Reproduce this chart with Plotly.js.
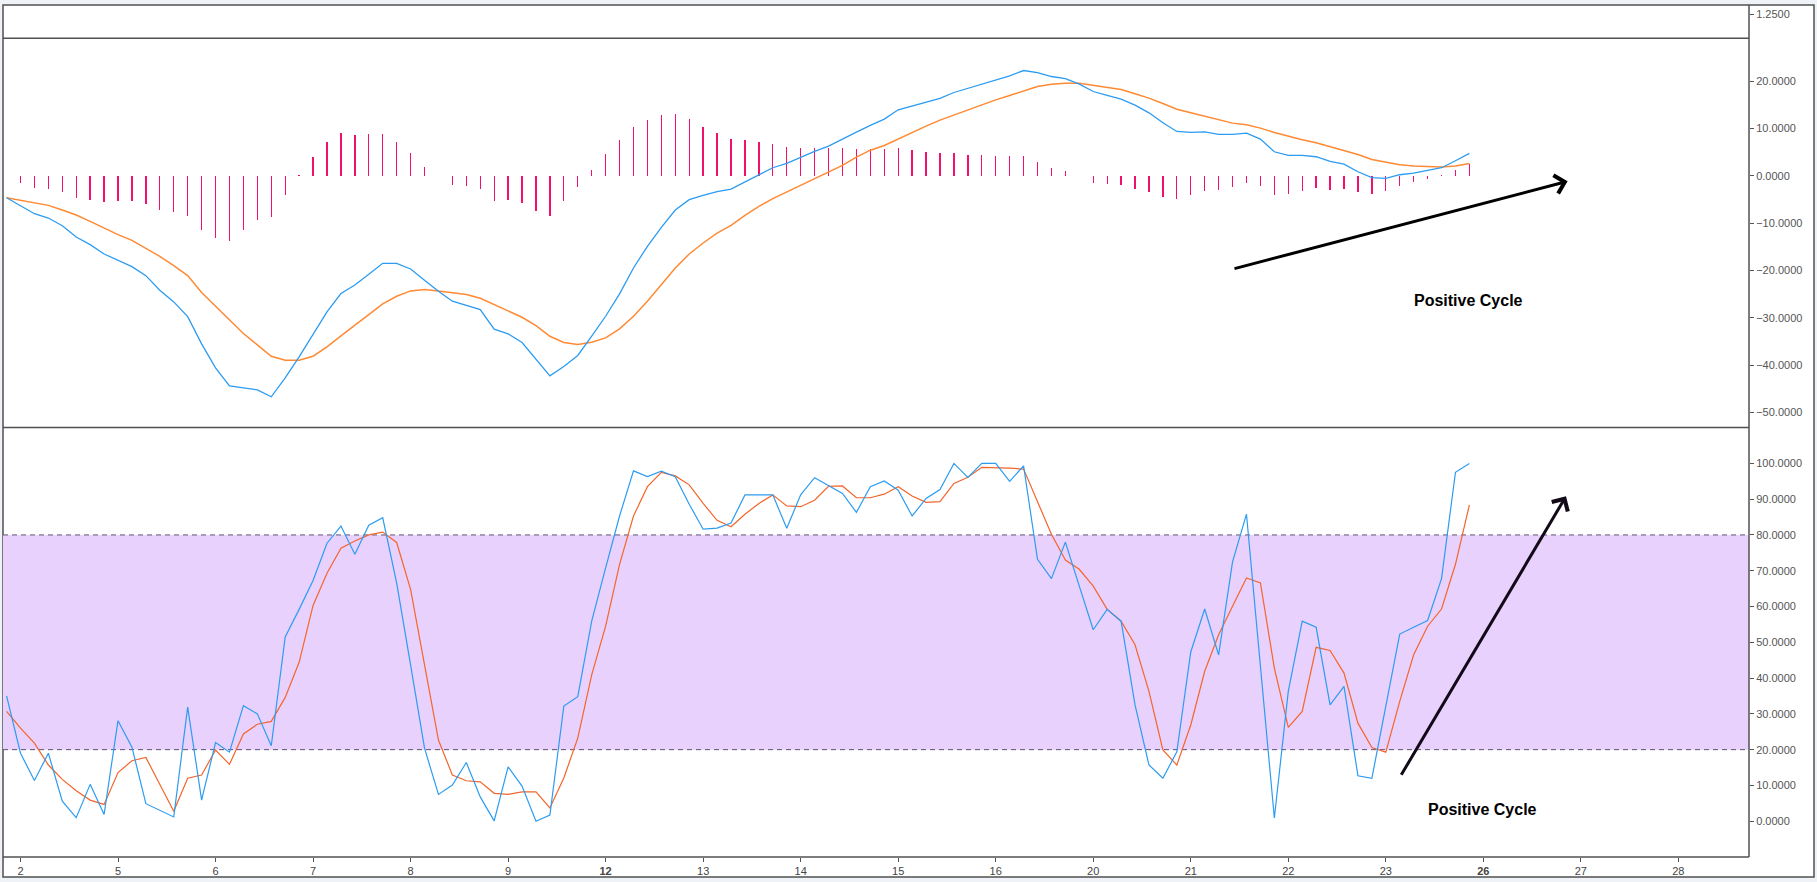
<!DOCTYPE html>
<html>
<head>
<meta charset="utf-8">
<script src="https://cdn.plot.ly/plotly-3.0.1.min.js"></script>
<style>
html,body{margin:0;padding:0;background:#eff3f7;}
#chart{width:1817px;height:882px;}
</style>
</head>
<body>
<div id="chart"></div>
<script>
// ---- data (one bar = one intraday period, 7 per trading day) ----
const dayLabels = ['2','5','6','7','8','9','12','13','14','15','16','20','21','22','23','26','27','28'];
const boldDays = ['12','26'];
const barsPerDay = 7;

const macdLine = [
 -4.64, -6.33, -8.02, -8.93, -10.55, -12.94, -14.56, -16.53, -17.79, -19.2,
 -21.1, -24.19, -26.65, -29.75, -35.51, -40.58, -44.37, -44.8, -45.22, -46.69,
 -42.69, -38.26, -33.54, -28.76, -24.89, -23.07, -20.82, -18.5, -18.5, -19.69,
 -22.08, -24.4, -26.51, -27.43, -28.27, -32.42, -33.4, -35.23, -38.82, -42.26,
 -40.3, -37.97, -33.9, -29.68, -24.96, -19.48, -14.91, -10.9, -7.24, -5.06,
 -4.15, -3.38, -2.81, -1.34, 0.28, 1.69, 2.6, 3.94, 5.13, 6.26,
 7.81, 9.21, 10.62, 11.95, 13.92, 14.77, 15.54, 16.32, 17.58, 18.5,
 19.27, 20.25, 21.1, 22.22, 21.8, 20.96, 20.53, 19.34, 17.79, 16.95,
 16.17, 14.91, 13.29, 11.18, 9.35, 9.14, 9.28, 8.72, 8.72, 9.0,
 7.74, 5.06, 4.29, 4.29, 4.01, 3.02, 2.46, 0.84, -0.42, -0.56,
 0.21, 0.56, 1.05, 1.69, 3.16, 4.71
];

const signalLine = [
 -4.64, -5.2, -5.7, -6.26, -7.24, -8.3, -9.63, -11.11, -12.45, -13.64,
 -15.33, -17.02, -18.99, -21.1, -24.68, -27.57, -30.66, -33.33, -35.72, -38.12,
 -38.96, -38.96, -38.12, -36.15, -33.83, -31.5, -29.32, -27.07, -25.46, -24.33,
 -24.05, -24.33, -24.68, -25.11, -25.88, -27.22, -28.48, -29.89, -31.65, -33.9,
 -35.23, -35.65, -35.16, -34.25, -32.35, -29.68, -26.51, -23.0, -19.48, -16.53,
 -14.21, -12.1, -10.48, -8.37, -6.47, -4.85, -3.45, -2.04, -0.63, 0.77,
 2.18, 3.94, 5.4, 6.4, 7.81, 9.21, 10.48, 11.74, 12.8, 13.85,
 15.05, 16.03, 16.95, 17.93, 18.85, 19.34, 19.55, 19.55, 19.13, 18.71,
 18.21, 17.3, 16.39, 15.26, 14.06, 13.29, 12.52, 11.74, 11.11, 10.76,
 10.06, 9.14, 8.3, 7.59, 6.96, 6.12, 5.41, 4.5, 3.45, 2.88,
 2.32, 2.04, 1.9, 1.83, 2.04, 2.6
];

const histogram = [
 null, -1.55, -2.6, -2.8, -3.45, -4.7, -5.1, -5.55, -5.35, -5.35,
 -6.0, -7.25, -7.65, -8.5, -11.45, -13.15, -13.7, -11.45, -9.35, -8.7,
 -4.1, 0.15, 3.95, 7.1, 8.95, 8.6, 8.8, 8.8, 7.1, 4.8,
 1.85, -0.1, -1.95, -2.2, -2.8, -5.35, -5.15, -5.75, -7.45, -8.5,
 -5.35, -2.4, 1.2, 4.55, 7.5, 10.25, 11.75, 12.8, 13.0, 11.95,
 10.25, 9.0, 7.75, 7.5, 7.1, 6.7, 6.05, 5.85, 5.85, 5.85,
 5.85, 5.6, 5.6, 5.6, 5.85, 5.4, 5.0, 4.8, 4.8, 4.35,
 4.35, 4.15, 4.15, 4.15, 2.9, 1.6, 1.0, 0, -1.55, -1.75,
 -1.95, -2.8, -3.45, -4.5, -4.9, -4.1, -3.25, -3.0, -2.4, -1.55,
 -2.2, -4.1, -3.85, -3.25, -2.6, -3.0, -2.8, -3.45, -3.85, -3.25,
 -2.2, -1.35, -0.7, 0.1, 1.2, 2.45
];

const stochK = [
 35.0, 19.0, 11.4, 19.0, 5.6, 1.0, 10.3, 1.9, 28.1, 20.7,
 4.9, 3.1, 1.2, 31.9, 5.9, 22.0, 19.3, 32.3, 30.0, 21.1,
 51.5, 59.2, 67.3, 77.7, 82.5, 74.6, 82.7, 84.8, 66.6, 43.7,
 20.4, 7.5, 10.1, 16.4, 6.8, 0.1, 15.2, 9.8, 0.0, 1.7,
 32.2, 34.8, 55.9, 70.8, 85.3, 97.9, 96.3, 97.8, 96.3, 88.6,
 81.6, 81.9, 83.3, 91.2, 91.2, 91.2, 81.9, 91.2, 96.0, 93.7,
 91.6, 86.3, 93.5, 95.1, 92.5, 85.3, 90.2, 92.7, 100, 96.1,
 100, 100, 95.0, 99.3, 73.2, 67.8, 78.0, 65.7, 53.5, 59.2,
 55.9, 32.5, 15.7, 12.0, 19.4, 47.3, 59.3, 46.5, 72.5, 85.8,
 43.3, 0.9, 36.3, 55.9, 54.2, 32.5, 37.7, 12.7, 12.0, 32.5,
 52.3, 54.2, 56.1, 67.8, 97.5, 100
];

const stochD = [
 30.7, 26.0, 21.8, 15.7, 11.7, 8.5, 5.9, 4.7, 13.6, 16.9,
 17.8, 10.1, 2.8, 12.0, 12.9, 19.9, 15.9, 24.4, 27.1, 27.9,
 34.6, 44.4, 60.3, 69.3, 76.3, 78.3, 80.0, 80.8, 77.9, 64.8,
 43.7, 22.7, 12.9, 11.3, 11.0, 7.8, 7.5, 8.2, 8.2, 3.7,
 12.1, 23.2, 40.9, 54.5, 71.8, 85.3, 93.5, 97.5, 96.5, 94.0,
 88.8, 84.1, 82.3, 85.8, 88.8, 91.2, 88.1, 87.9, 89.7, 93.6,
 93.7, 90.4, 90.4, 91.4, 93.5, 90.9, 89.1, 89.3, 94.4, 96.1,
 98.9, 98.9, 98.7, 98.4, 89.1, 80.2, 73.0, 70.4, 65.7, 59.2,
 55.9, 49.3, 36.3, 19.9, 15.7, 26.9, 41.9, 52.1, 60.1, 68.0,
 66.6, 42.8, 26.2, 30.7, 48.6, 47.7, 41.4, 27.4, 20.6, 19.3,
 33.5, 46.5, 54.5, 59.3, 71.8, 88.4
];

const stochBand = [20, 80];
const topStripTick = [1.25];
const annotationText = 'Positive Cycle';

// ---- geometry (pixels) ----
const W = 1817, H = 882;
const M = {l: 3, r: 68, t: 6, b: 25};
const PW = W - M.l - M.r, PH = H - M.t - M.b;
const px2x = px => (px - M.l) / PW;
const py2y = py => (H - M.b - py) / PH;

const splitLow = py2y(427.6);   // stoch | macd
const splitHigh = py2y(38.2);   // macd | top strip

const xIdx = macdLine.map((_, i) => i);
const tickPos = dayLabels.map((_, k) => 1 + k * barsPerDay);
const tickText = dayLabels.map(d => boldDays.includes(d) ? '<b>' + d + '</b>' : d);

const BLUE = '#2c9cf2', ORANGE = '#ff8a34', RED = '#f4652c', PINK = '#f2106f';
const FONT = '"Liberation Sans", Arial, sans-serif';

const traces = [
  {type: 'bar', x: xIdx, y: histogram, xaxis: 'x', yaxis: 'y2', width: 0.095,
   marker: {color: PINK, line: {width: 0}}, hoverinfo: 'skip'},
  {type: 'scatter', mode: 'lines', x: xIdx, y: signalLine, xaxis: 'x', yaxis: 'y2',
   line: {color: ORANGE, width: 1.5}},
  {type: 'scatter', mode: 'lines', x: xIdx, y: macdLine, xaxis: 'x', yaxis: 'y2',
   line: {color: BLUE, width: 1.3}},
  {type: 'scatter', mode: 'lines', x: xIdx, y: stochD, xaxis: 'x', yaxis: 'y',
   line: {color: RED, width: 1.2}},
  {type: 'scatter', mode: 'lines', x: xIdx, y: stochK, xaxis: 'x', yaxis: 'y',
   line: {color: BLUE, width: 1.2}}
];

const yCommon = {
  side: 'right', anchor: 'x', showgrid: false, zeroline: false, showline: false,
  ticks: 'outside', ticklen: 4, tickcolor: '#555', tickwidth: 1,
  tickformat: '.4f', tickfont: {family: FONT, size: 11, color: '#555'}, fixedrange: true
};

const frameLine = {color: '#505050', width: 1.5};
const shapes = [
  // outer white panel
  {type: 'rect', xref: 'paper', yref: 'paper', layer: 'below',
   x0: px2x(3), x1: px2x(1814), y0: py2y(877), y1: py2y(5),
   fillcolor: '#ffffff', line: frameLine},
  // stochastic band
  {type: 'rect', xref: 'paper', yref: 'y', layer: 'below',
   x0: 0, x1: 1, y0: stochBand[0], y1: stochBand[1],
   fillcolor: '#e9d1fd', line: {width: 0}},
  {type: 'line', xref: 'paper', yref: 'y', layer: 'below',
   x0: 0, x1: 1, y0: stochBand[1], y1: stochBand[1],
   line: {color: '#5e5270', width: 1, dash: '5px,4px'}},
  {type: 'line', xref: 'paper', yref: 'y', layer: 'below',
   x0: 0, x1: 1, y0: stochBand[0], y1: stochBand[0],
   line: {color: '#5e5270', width: 1, dash: '5px,4px'}},
  // panel separators
  {type: 'line', xref: 'paper', yref: 'paper', x0: 0, x1: 1, y0: splitLow, y1: splitLow, line: frameLine},
  {type: 'line', xref: 'paper', yref: 'paper', x0: 0, x1: 1, y0: splitHigh, y1: splitHigh, line: frameLine},
  {type: 'line', xref: 'paper', yref: 'paper', x0: 0, x1: 1, y0: 0, y1: 0, line: frameLine},
  {type: 'line', xref: 'paper', yref: 'paper', x0: 1, x1: 1, y0: 0, y1: py2y(5), line: frameLine}
];

const annotations = [
  {xref: 'paper', yref: 'paper', x: px2x(1567.6), y: py2y(181.3),
   ax: 1233 - 1567.6, ay: 269 - 181.3, axref: 'pixel', ayref: 'pixel',
   text: '', showarrow: true, arrowhead: 4, arrowsize: 1.2, arrowwidth: 3, arrowcolor: '#000000'},
  {xref: 'paper', yref: 'paper', x: px2x(1566), y: py2y(496.3),
   ax: 1400.4 - 1566, ay: 776.3 - 496.3, axref: 'pixel', ayref: 'pixel',
   text: '', showarrow: true, arrowhead: 4, arrowsize: 1.2, arrowwidth: 3, arrowcolor: '#120a18'},
  {xref: 'paper', yref: 'paper', x: px2x(1468), y: py2y(300.7), xanchor: 'center', yanchor: 'middle',
   text: annotationText, showarrow: false, font: {family: FONT, size: 16, color: '#000', weight: 'bold'}},
  {xref: 'paper', yref: 'paper', x: px2x(1482), y: py2y(809), xanchor: 'center', yanchor: 'middle',
   text: annotationText, showarrow: false, font: {family: FONT, size: 16, color: '#000', weight: 'bold'}}
];

const layout = {
  width: W, height: H,
  margin: M,
  paper_bgcolor: '#eff3f7',
  plot_bgcolor: '#ffffff',
  showlegend: false,
  bargap: 0,
  font: {family: FONT, size: 11, color: '#555'},
  xaxis: {
    domain: [0, 1], anchor: 'y', range: [-0.256, 125.07],
    tickmode: 'array', tickvals: tickPos, ticktext: tickText,
    ticks: 'outside', ticklen: 4, tickcolor: '#555',
    tickfont: {family: FONT, size: 11, color: '#444'},
    showgrid: false, zeroline: false, showline: false, fixedrange: true
  },
  yaxis: Object.assign({}, yCommon, {domain: [0, splitLow], range: [-10, 110],
    tickmode: 'array', tickvals: [0,10,20,30,40,50,60,70,80,90,100]}),
  yaxis2: Object.assign({}, yCommon, {domain: [splitLow, splitHigh], range: [-53.2, 29.05],
    tickmode: 'array', tickvals: [-50,-40,-30,-20,-10,0,10,20]}),
  yaxis3: Object.assign({}, yCommon, {domain: [splitHigh, 1], range: [0, 1.6667],
    tickmode: 'array', tickvals: topStripTick}),
  shapes: shapes,
  annotations: annotations
};

// empty trace so the top strip subplot exists
traces.push({type: 'scatter', mode: 'lines', x: [], y: [], xaxis: 'x', yaxis: 'y3', hoverinfo: 'skip'});

Plotly.newPlot('chart', traces, layout, {displayModeBar: false, staticPlot: true});
</script>
</body>
</html>
